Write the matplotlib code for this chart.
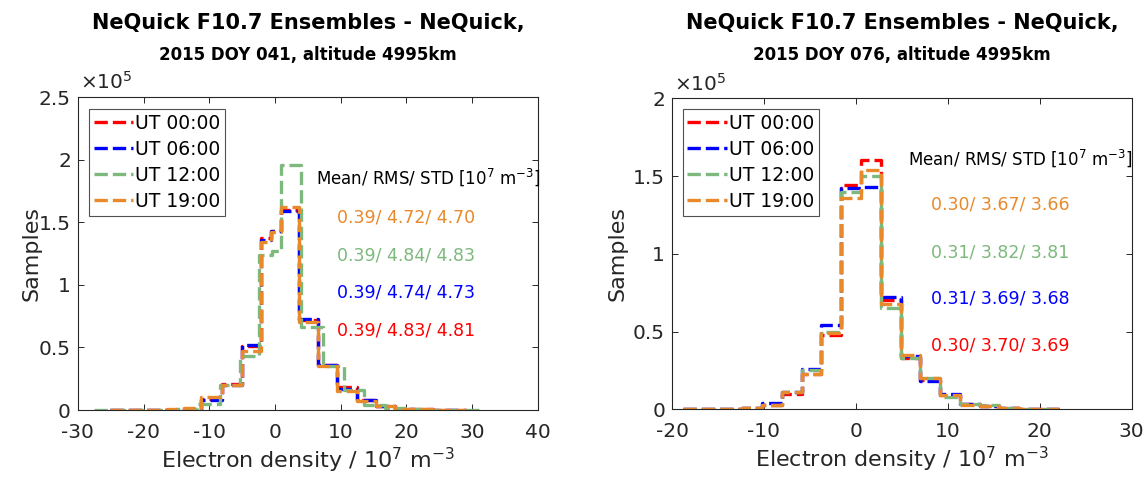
import numpy as np
import matplotlib
matplotlib.use('Agg')
import matplotlib.pyplot as plt
from matplotlib.ticker import FuncFormatter

plt.rcParams['font.family'] = 'DejaVu Sans'
plt.rcParams['axes.unicode_minus'] = False

# ---- data (sample counts in units of 1e5) ----
labels = ['UT 00:00', 'UT 06:00', 'UT 12:00', 'UT 19:00']
colors = ['#ff0000', '#0000ff', '#7db87d', '#e8892b']

# DOY 041
edges_041 = [-25.1, -22.2, -19.3, -16.4, -13.8, -11.3, -8.0, -5.0, -2.1, -0.6, 0.9,
             3.7, 6.6, 9.5, 12.4, 15.4, 18.3, 21.2, 24.1, 27.0, 29.0]
edges_041_g = [-27.5, -24.3, -21.2, -18.1, -15.0, -11.8, -8.4, -5.3, -2.5, -0.5, 0.9,
               4.0, 7.3, 10.5, 13.6, 16.7, 19.8, 22.9, 26.0, 29.1, 31.3]
ut00_041 = [0.0, 0.0, 0.0, 0.004, 0.012, 0.09, 0.21, 0.51, 1.37, 1.43, 1.60, 0.72, 0.36, 0.18, 0.08, 0.03, 0.01, 0.005, 0.002, 0.0]
ut06_041 = [0.0, 0.0, 0.0, 0.003, 0.01, 0.08, 0.20, 0.52, 1.36, 1.43, 1.59, 0.73, 0.36, 0.17, 0.08, 0.03, 0.01, 0.004, 0.002, 0.0]
ut12_041 = [0.0, 0.0, 0.0, 0.002, 0.01, 0.05, 0.20, 0.43, 1.24, 1.27, 1.96, 0.66, 0.35, 0.16, 0.04, 0.015, 0.005, 0.002, 0.001, 0.0]
ut19_041 = [0.0, 0.0, 0.0, 0.005, 0.015, 0.10, 0.20, 0.47, 1.34, 1.42, 1.62, 0.70, 0.35, 0.15, 0.07, 0.03, 0.01, 0.005, 0.002, 0.0]
stats_041 = ['0.39/ 4.83/ 4.81', '0.39/ 4.74/ 4.73', '0.39/ 4.84/ 4.83', '0.39/ 4.72/ 4.70']

# DOY 076
edges_076 = [-18.8, -16.65, -14.5, -12.35, -10.2, -8.05, -5.9, -3.75, -1.6, 0.55,
             2.7, 4.85, 7.0, 9.15, 11.3, 13.45, 15.6, 17.75, 19.9, 22.05]
ut00_076 = [0, 0, 0.005, 0.01, 0.03, 0.10, 0.23, 0.48, 1.44, 1.60, 0.70, 0.33, 0.19, 0.09, 0.035, 0.02, 0.01, 0.005, 0.002]
ut06_076 = [0, 0, 0.005, 0.01, 0.04, 0.11, 0.26, 0.54, 1.42, 1.43, 0.72, 0.34, 0.18, 0.10, 0.035, 0.02, 0.01, 0.005, 0.002]
ut12_076 = [0, 0, 0.005, 0.01, 0.03, 0.11, 0.25, 0.50, 1.40, 1.50, 0.65, 0.33, 0.20, 0.08, 0.035, 0.025, 0.01, 0.005, 0.002]
ut19_076 = [0, 0, 0.005, 0.01, 0.03, 0.11, 0.23, 0.49, 1.36, 1.54, 0.68, 0.35, 0.20, 0.09, 0.03, 0.02, 0.01, 0.005, 0.002]
stats_076 = ['0.30/ 3.70/ 3.69', '0.31/ 3.69/ 3.68', '0.31/ 3.82/ 3.81', '0.30/ 3.67/ 3.66']

panels = [
    dict(doy='041', edges=[edges_041, edges_041, edges_041_g, edges_041],
         vals=[ut00_041, ut06_041, ut12_041, ut19_041], stats=stats_041,
         xlim=(-30, 40), ylim=2.5, rect=[0.0679, 0.1598, 0.4011, 0.6414],
         leg=(0.024, 0.962), hdr=(6.3, 1.86), num_x=9.45, num_y=[0.636, 0.936, 1.237, 1.537],
         ylab_x=-0.08),
    dict(doy='076', edges=[edges_076] * 4,
         vals=[ut00_076, ut06_076, ut12_076, ut19_076], stats=stats_076,
         xlim=(-20, 30), ylim=2.0, rect=[0.5859, 0.1613, 0.4008, 0.6373],
         leg=(0.0233, 0.9656), hdr=(5.63, 1.614), num_x=8.18, num_y=[0.413, 0.714, 1.01, 1.314],
         ylab_x=-0.096),
]

fig = plt.figure(figsize=(11.47, 4.88), dpi=100)
axcol = '#262626'

for p in panels:
    ax = fig.add_axes(p['rect'])
    for e, v, c, lab in zip(p['edges'], p['vals'], colors, labels):
        y = np.array(v + [v[-1]]) * 1e5
        ax.step(e, y, where='post', color=c, lw=2.4, linestyle=(0, (4, 1.5)), label=lab)

    ax.set_xlim(*p['xlim'])
    ax.set_ylim(0, p['ylim'] * 1e5)
    ax.set_xticks(np.arange(p['xlim'][0], p['xlim'][1] + 1, 10))
    ax.set_yticks(np.arange(0, p['ylim'] + 0.01, 0.5) * 1e5)
    ax.yaxis.set_major_formatter(FuncFormatter(lambda v, pos: f'{v / 1e5:g}'))
    ax.tick_params(direction='in', top=True, right=True, length=4, width=0.7,
                   labelsize=14.5, colors=axcol, labelcolor=axcol)
    ax.tick_params(axis='x', pad=9)
    ax.tick_params(axis='y', pad=5)
    for s in ax.spines.values():
        s.set_color(axcol)
        s.set_linewidth(0.8)

    ax.text(0.005, 1.012, r'$\times10^{5}$', transform=ax.transAxes, fontsize=14.5,
            color=axcol, ha='left', va='bottom')

    ax.set_xlabel(r'Electron density / 10$^7$ m$^{-3}$', fontsize=16, color=axcol, labelpad=3)
    ax.set_ylabel('Samples', fontsize=16, color=axcol)
    ax.yaxis.set_label_coords(p['ylab_x'], 0.5)

    leg = ax.legend(loc='upper left', bbox_to_anchor=p['leg'], borderaxespad=0,
                    fontsize=13.5, frameon=True, fancybox=False, handlelength=2.1,
                    handletextpad=0.12, labelspacing=0.38, borderpad=0.25)
    leg.get_frame().set_edgecolor('#262626')
    leg.get_frame().set_linewidth(0.8)

    ax.text(p['hdr'][0], p['hdr'][1] * 1e5, r'Mean/ RMS/ STD [10$^7$ m$^{-3}$]',
            fontsize=12, color='black', ha='left', va='center')
    for s, c, yy in zip(p['stats'], colors, p['num_y']):
        ax.text(p['num_x'], yy * 1e5, s, fontsize=12.5, color=c, ha='left', va='center')

    xc = p['rect'][0] + p['rect'][2] / 2
    fig.text(xc, 1 - 23 / 488, 'NeQuick F10.7 Ensembles - NeQuick,', fontsize=15,
             fontweight='bold', ha='center', va='center')
    fig.text(xc, 1 - 55 / 488, '2015 DOY ' + p['doy'] + ', altitude 4995km', fontsize=12,
             fontweight='bold', ha='center', va='center')

plt.savefig('out.png', dpi=100)
